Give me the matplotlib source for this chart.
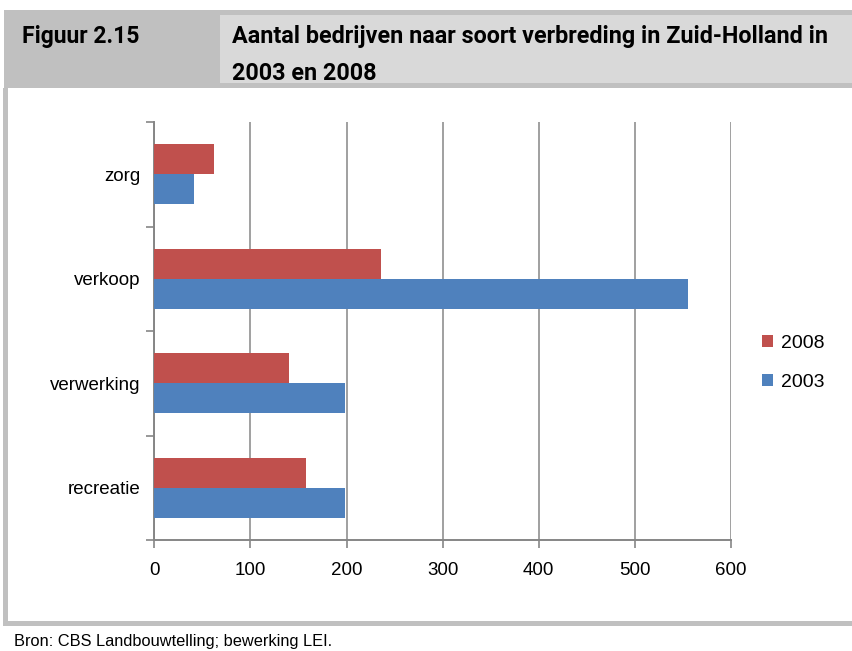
import matplotlib.pyplot as plt
from matplotlib.patches import Rectangle

categories = ['recreatie', 'verwerking', 'verkoop', 'zorg']
v2008 = [158, 140, 236, 62]
v2003 = [198, 198, 555, 41]
series = ['2008', '2003']
xticks = [0, 100, 200, 300, 400, 500, 600]

red = '#C0504D'
blue = '#4F81BD'
axgrey = '#868686'
W, H = 853, 651

plt.rcParams['font.family'] = ['Liberation Sans', 'DejaVu Sans']

fig = plt.figure(figsize=(W / 100, H / 100), dpi=100)


def box(x0, y0, x1, y1, color):
    # pixel coords from top-left
    fig.patches.append(Rectangle((x0 / W, 1 - y1 / H), (x1 - x0) / W, (y1 - y0) / H,
                                 transform=fig.transFigure, color=color, lw=0, zorder=0))


# header and frame
box(4, 10, W, 88, '#C0C0C0')
box(220, 15, W, 83, '#D9D9D9')
box(3, 88, 8, 626, '#C0C0C0')
box(3, 621, W, 626, '#C0C0C0')

tfont = ['Roboto', 'DejaVu Sans']
fig.text(22 / W, 1 - 43 / H, 'Figuur 2.15', fontsize=16.5, fontweight='bold', va='baseline', family=tfont)
fig.text(232 / W, 1 - 43 / H, 'Aantal bedrijven naar soort verbreding in Zuid-Holland in',
         fontsize=16.8, fontweight='bold', va='baseline', family=tfont)
fig.text(232 / W, 1 - 80 / H, '2003 en 2008', fontsize=16.8, fontweight='bold', va='baseline', family=tfont)
fig.text(14 / W, 1 - 646 / H, 'Bron: CBS Landbouwtelling; bewerking LEI.', fontsize=11.8, va='baseline')

ax = fig.add_axes([154.3 / W, 1 - 540 / H, (731 - 154.3) / W, (540 - 122) / H])
h = 0.287
y = list(range(len(categories)))
ax.barh([i + h / 2 for i in y], v2008, height=h, color=red, label=series[0], zorder=3)
ax.barh([i - h / 2 for i in y], v2003, height=h, color=blue, label=series[1], zorder=3)

ax.set_xlim(0, 600)
ax.set_ylim(-0.5, len(categories) - 0.5)
ax.set_xticks(xticks)
ax.set_xticklabels([str(t) for t in xticks], fontsize=13.5)
ax.set_yticks([i - 0.5 for i in range(len(categories) + 1)])
ax.set_yticklabels([])
ax.set_yticks(y, minor=True)
ax.set_yticklabels(categories, minor=True, fontsize=13.5)
ax.tick_params(axis='y', which='minor', length=0, pad=10)
ax.tick_params(axis='y', which='major', length=6, width=1.2, color=axgrey, direction='out')
ax.tick_params(axis='x', length=6, width=1.2, color=axgrey, direction='out', pad=10)
ax.grid(axis='x', color=axgrey, lw=1.1, zorder=0)
for s in ['top', 'right']:
    ax.spines[s].set_visible(False)
for s in ['left', 'bottom']:
    ax.spines[s].set_color(axgrey)
    ax.spines[s].set_linewidth(1.4)

handles, labels = ax.get_legend_handles_labels()
fig.legend(handles, labels, loc='center left', bbox_to_anchor=(745 / W, 1 - 363 / H),
           frameon=False, handlelength=0.55, handleheight=0.55,
           handletextpad=0.4, labelspacing=1.15, prop={'size': 14})

fig.savefig('out.png', dpi=100)
